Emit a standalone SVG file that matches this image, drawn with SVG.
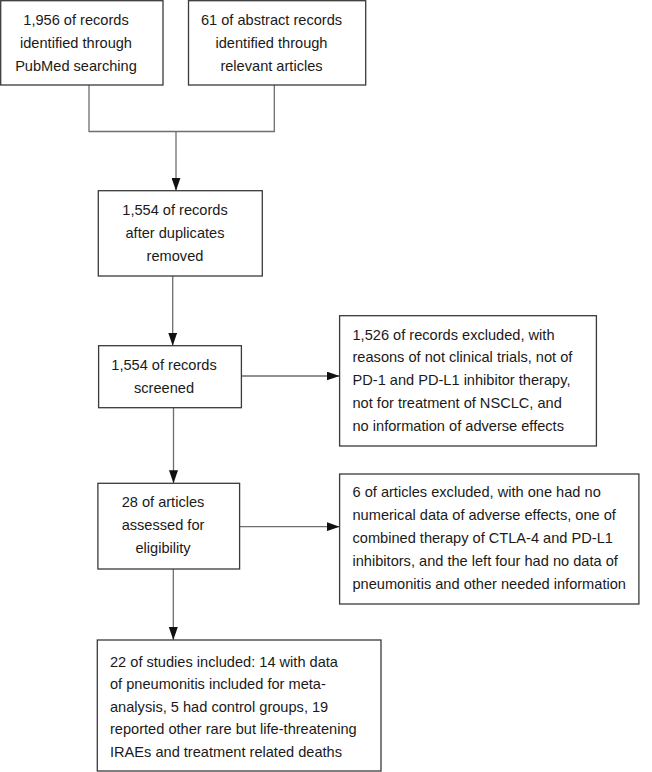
<svg xmlns="http://www.w3.org/2000/svg" width="652" height="772" viewBox="0 0 652 772">
<style>
.box{fill:#fff;stroke:#3a3a3a;stroke-width:1.3}
.t{font-family:"Liberation Sans",Arial,Helvetica,sans-serif;font-size:14.6px;fill:#1a1a1a}
.c{text-anchor:middle}
.ln{fill:none;stroke:#6e6e6e;stroke-width:1.3}
</style>
<defs>
<marker id="ah" markerWidth="13" markerHeight="9" refX="13" refY="4.5" orient="auto" markerUnits="userSpaceOnUse">
<path d="M0,0 L13,4.5 L0,9 z" fill="#111"/>
</marker>
</defs>
<rect width="652" height="772" fill="#fff"/>
<g id="connectors">
<path class="ln" d="M89,85 V131.5 H274.3 V85"/>
<line class="ln" x1="176" y1="131.5" x2="176" y2="190.7" marker-end="url(#ah)"/>
<line class="ln" x1="172.7" y1="276" x2="172.7" y2="345.7" marker-end="url(#ah)"/>
<line class="ln" x1="241.4" y1="376" x2="339.6" y2="376" marker-end="url(#ah)"/>
<line class="ln" x1="173.5" y1="407.7" x2="173.5" y2="483.3" marker-end="url(#ah)"/>
<line class="ln" x1="239.6" y1="526.7" x2="339.6" y2="526.7" marker-end="url(#ah)"/>
<line class="ln" x1="173.3" y1="569" x2="173.3" y2="640" marker-end="url(#ah)"/>
</g>
<g id="n1">
<rect class="box" x="0.7" y="0.7" width="162.3" height="84.3"/>
<text class="t c" x="76" y="25">1,956 of records</text>
<text class="t c" x="76" y="48">identified through</text>
<text class="t c" x="76" y="71">PubMed searching</text>
</g>
<g id="n2">
<rect class="box" x="188.5" y="0.7" width="177.2" height="84.3"/>
<text class="t c" x="271.5" y="25">61 of abstract records</text>
<text class="t c" x="271.5" y="48">identified through</text>
<text class="t c" x="271.5" y="71">relevant articles</text>
</g>
<g id="n3">
<rect class="box" x="98.3" y="190.7" width="164" height="85.3"/>
<text class="t c" x="175" y="215">1,554 of records</text>
<text class="t c" x="175" y="238">after duplicates</text>
<text class="t c" x="175" y="261">removed</text>
</g>
<g id="n4">
<rect class="box" x="98.6" y="345.7" width="142.8" height="62"/>
<text class="t c" x="164" y="370">1,554 of records</text>
<text class="t c" x="164" y="393">screened</text>
</g>
<g id="n5">
<rect class="box" x="339.6" y="315.7" width="256.8" height="130.3"/>
<text class="t" x="352.5" y="339.5">1,526 of records excluded, with</text>
<text class="t" x="352.5" y="362.3">reasons of not clinical trials, not of</text>
<text class="t" x="352.5" y="385.1">PD-1 and PD-L1 inhibitor therapy,</text>
<text class="t" x="352.5" y="407.9">not for treatment of NSCLC, and</text>
<text class="t" x="352.5" y="430.7">no information of adverse effects</text>
</g>
<g id="n6">
<rect class="box" x="97.9" y="483.3" width="141.7" height="85.7"/>
<text class="t c" x="163" y="507.3">28 of articles</text>
<text class="t c" x="163" y="530.3">assessed for</text>
<text class="t c" x="163" y="553.3">eligibility</text>
</g>
<g id="n7">
<rect class="box" x="339.6" y="474" width="299.3" height="130"/>
<text class="t" x="352.5" y="496.8">6 of articles excluded, with one had no</text>
<text class="t" x="352.5" y="519.8">numerical data of adverse effects, one of</text>
<text class="t" x="352.5" y="542.8">combined therapy of CTLA-4 and PD-L1</text>
<text class="t" x="352.5" y="565.8">inhibitors, and the left four had no data of</text>
<text class="t" x="352.5" y="588.8">pneumonitis and other needed information</text>
</g>
<g id="n8">
<rect class="box" x="97.3" y="640" width="283.7" height="131"/>
<text class="t" x="110" y="666.5">22 of studies included: 14 with data</text>
<text class="t" x="110" y="689">of pneumonitis included for meta-</text>
<text class="t" x="110" y="711.5">analysis, 5 had control groups, 19</text>
<text class="t" x="110" y="734">reported other rare but life-threatening</text>
<text class="t" x="110" y="756.5">IRAEs and treatment related deaths</text>
</g>
</svg>
